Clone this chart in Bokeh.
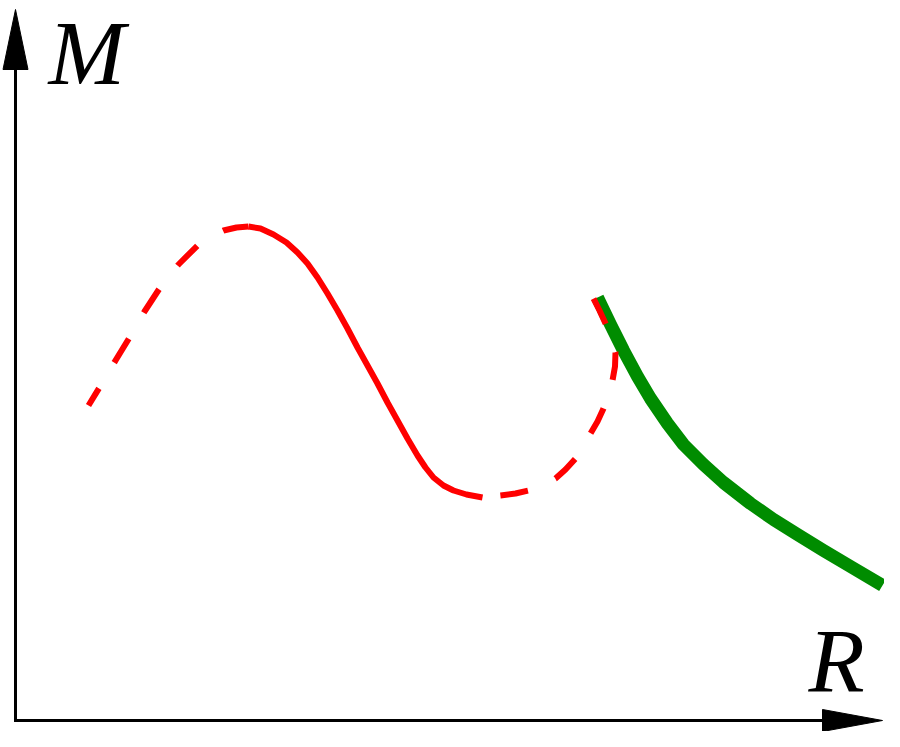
from bokeh.plotting import figure
from bokeh.models import Range1d
from bokeh.embed import file_html
from bokeh.resources import INLINE
from bokeh.core.properties import value

# ---- data (R, M); origin at the axes corner ----
unstable_low_R = [0.73, 0.84, 1.00, 1.14, 1.29, 1.44, 1.63, 1.82, 1.95, 2.08, 2.21, 2.33]
unstable_low_M = [3.26, 3.44, 3.71, 3.94, 4.20, 4.43, 4.67, 4.86, 4.95, 5.01, 5.04, 5.05]

stable_R = [2.33, 2.45, 2.58, 2.71, 2.82, 2.92, 3.02, 3.12, 3.22, 3.32, 3.42, 3.52,
            3.62, 3.72, 3.82, 3.92, 4.02, 4.10, 4.18, 4.28, 4.38, 4.51, 4.67]
stable_M = [5.05, 5.03, 4.97, 4.89, 4.79, 4.68, 4.54, 4.38, 4.21, 4.03, 3.84, 3.66,
            3.48, 3.29, 3.11, 2.93, 2.76, 2.64, 2.54, 2.46, 2.41, 2.37, 2.34]

unstable_high_R = [4.67, 4.85, 5.00, 5.13, 5.27, 5.40, 5.50, 5.60, 5.68, 5.75, 5.82,
                   5.88, 5.93, 5.97, 5.995, 6.00, 5.96, 5.90, 5.84, 5.78]
unstable_high_M = [2.34, 2.36, 2.38, 2.41, 2.46, 2.53, 2.62, 2.73, 2.85, 2.98, 3.10,
                   3.23, 3.36, 3.51, 3.65, 3.79, 3.94, 4.08, 4.21, 4.33]

green_R = [5.82, 5.95, 6.08, 6.22, 6.35, 6.52, 6.68, 6.88, 7.08, 7.35, 7.58, 7.82,
           8.08, 8.35, 8.67]
green_M = [4.34, 4.07, 3.81, 3.55, 3.33, 3.08, 2.87, 2.67, 2.49, 2.28, 2.12, 1.97,
           1.81, 1.65, 1.46]

x_label = "R"
y_label = "M"

# ---- layout constants ----
X0, X1 = -0.15, 8.69
Y0, Y1 = 0.0, 7.31
AX_X = 0.0          # position of the M axis
AX_Y = 0.11         # position of the R axis
AX_END_X = 8.67     # arrow tip on R axis
AX_END_Y = 7.22     # arrow tip on M axis
HEAD_L = 0.60
HEAD_W_V = 0.125
HEAD_W_H = 0.11
LABEL_SIZE = "92px"

p = figure(width=884, height=731, x_range=Range1d(X0, X1), y_range=Range1d(Y0, Y1),
           output_backend="svg", toolbar_location=None, min_border=0,
           x_axis_type=None, y_axis_type=None)
p.grid.visible = False
p.outline_line_color = None
p.background_fill_color = "white"
p.border_fill_color = "white"

# axes
p.line([AX_X, AX_X], [AX_Y - 0.015, AX_END_Y - HEAD_L + 0.02], line_color="black", line_width=3)
p.line([AX_X - 0.015, AX_END_X - HEAD_L + 0.02], [AX_Y, AX_Y], line_color="black", line_width=3)
p.patch([AX_X - HEAD_W_V, AX_X, AX_X + HEAD_W_V],
        [AX_END_Y - HEAD_L, AX_END_Y, AX_END_Y - HEAD_L],
        fill_color="black", line_color="black", line_width=1)
p.patch([AX_END_X - HEAD_L, AX_END_X, AX_END_X - HEAD_L],
        [AX_Y - HEAD_W_H, AX_Y, AX_Y + HEAD_W_H],
        fill_color="black", line_color="black", line_width=1)

# curves
p.line(green_R, green_M, line_color="#008c00", line_width=13, line_join="round")
p.line(unstable_low_R, unstable_low_M, line_color="#ff0000", line_width=6,
       line_dash="28 30", line_dash_offset=8, line_join="round")
p.line(stable_R, stable_M, line_color="#ff0000", line_width=6, line_join="round")
p.line(unstable_high_R, unstable_high_M, line_color="#ff0000", line_width=6,
       line_dash="28 30", line_dash_offset=40, line_join="round")

# labels
p.text(x=[0.33], y=[6.79], text=[y_label], text_font=value("Liberation Serif"),
       text_font_style="italic", text_font_size=LABEL_SIZE, text_color="black",
       text_baseline="alphabetic", text_align="left")
p.text(x=[7.93], y=[0.71], text=[x_label], text_font=value("Liberation Serif"),
       text_font_style="italic", text_font_size=LABEL_SIZE, text_color="black",
       text_baseline="alphabetic", text_align="left")

open("out.html", "w").write(file_html(p, INLINE))
